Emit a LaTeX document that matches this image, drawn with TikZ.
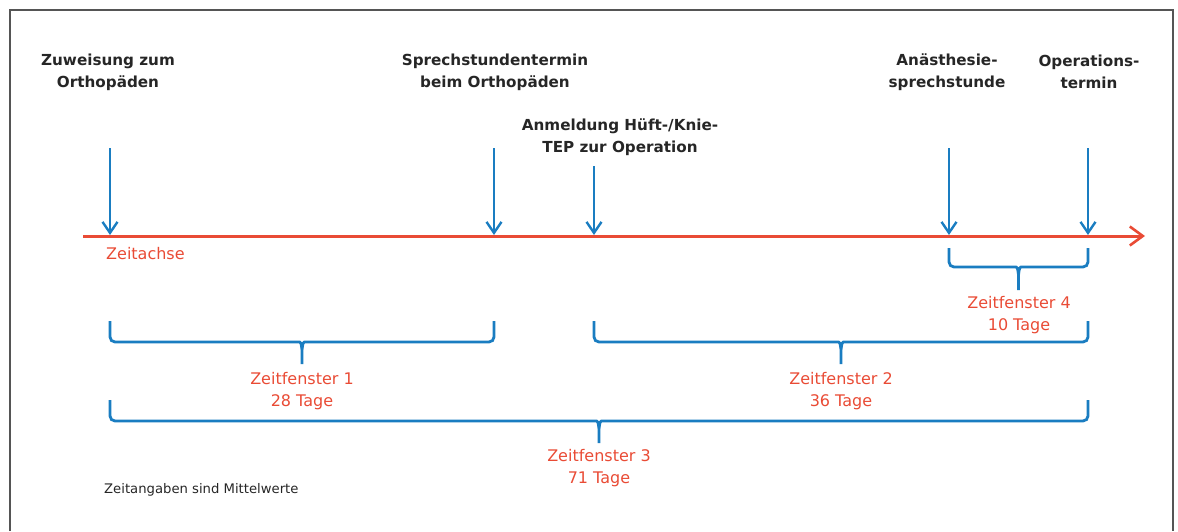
\documentclass[tikz,border=0pt]{standalone}
\usepackage{fontspec}
\setmainfont{DejaVu Sans}
\usetikzlibrary{arrows.meta,calc}

\definecolor{zrot}{HTML}{E94B35}
\definecolor{zblau}{HTML}{1A7DC1}
\definecolor{zgrau}{HTML}{555555}

\tikzset{
  achse/.style={zrot, line width=3pt, -{Straight Barb[length=13pt,width=19pt,line width=2.6pt]}},
  ereignis/.style={zblau, line width=2.6pt, -{Straight Barb[length=11pt,width=15pt,line width=2.4pt]}},
  klammer/.style={zblau, line width=2.8pt},
  ereignistext/.style={align=center, inner sep=0pt, text=black!85,
    font=\fontsize{15.2}{22}\selectfont\bfseries},
  zeitfenster/.style={align=center, inner sep=0pt, text=zrot,
    font=\fontsize{16}{22}\selectfont},
}

% Klammer zwischen zwei Ereignissen: #1 links, #2 rechts, #3 oben, #4 Balken, #5 Spitze
\newcommand{\zfklammer}[5]{%
  \draw[klammer] let \p1=(#1), \p2=(#2), \n1={\x1/1pt}, \n2={\x2/1pt}, \n3={(\n1+\n2)/2} in
    [rounded corners=5pt] (\n1,#3) -- (\n1,#4) -- ({\n3-9},#4) [sharp corners]
    .. controls ({\n3-1},#4) .. ({\n3},{#4+8}) -- ({\n3},#5)
    [rounded corners=5pt] (\n2,#3) -- (\n2,#4) -- ({\n3+9},#4) [sharp corners]
    .. controls ({\n3+1},#4) .. ({\n3},{#4+8});
}

\begin{document}
\begin{tikzpicture}[x=1pt,y=-1pt]
  \useasboundingbox (0,0) rectangle (1178,531);

  % Rahmen
  \draw[zgrau, line width=1.3pt] (10,531) -- (10,10) -- (1173,10) -- (1173,531);

  % Zeitachse
  \coordinate (achse-a) at (83,236);
  \coordinate (achse-e) at (1145,236);
  \draw[achse] (achse-a) -- (achse-e);
  \node[zeitfenster, anchor=west] (zeitachse) at (106,254) {Zeitachse};

  % Ereignisse mit Pfeilen
  \foreach \name/\x/\yo in {zuw/110/148, sprech/494/148, anm/594/166, anae/949/148, op/1088/148} {
    \coordinate (\name) at (\x,235);
    \coordinate (\name-oben) at (\x,\yo);
    \draw[ereignis] (\name-oben) -- (\name);
  }

  % Texte der Ereignisse
  \node[ereignistext] (t-zuw) at (108,72) {Zuweisung zum\\Orthopäden};
  \node[ereignistext] (t-sprech) at (495,72) {Sprechstundentermin\\beim Orthopäden};
  \node[ereignistext] (t-anm) at (620,137) {Anmeldung Hüft-/Knie-\\TEP zur Operation};
  \node[ereignistext] (t-anae) at (947,72) {Anästhesie-\\sprechstunde};
  \node[ereignistext] (t-op) at (1089,72) {Operations-\\termin};

  % Zeitfenster
  \zfklammer{anae}{op}{248}{267}{290}
  \node[zeitfenster] (zf4) at (1019,315) {Zeitfenster 4\\10 Tage};

  \zfklammer{zuw}{sprech}{321}{342}{364}
  \node[zeitfenster] (zf1) at (302,391) {Zeitfenster 1\\28 Tage};

  \zfklammer{anm}{op}{321}{342}{364}
  \node[zeitfenster] (zf2) at (841,391) {Zeitfenster 2\\36 Tage};

  \zfklammer{zuw}{op}{400}{421}{443}
  \node[zeitfenster] (zf3) at (599,468) {Zeitfenster 3\\71 Tage};

  % Hinweis
  \node[anchor=west, inner sep=0pt, text=black!85, font=\fontsize{13.2}{16}\selectfont]
    (hinweis) at (104,490) {Zeitangaben sind Mittelwerte};
\end{tikzpicture}
\end{document}
